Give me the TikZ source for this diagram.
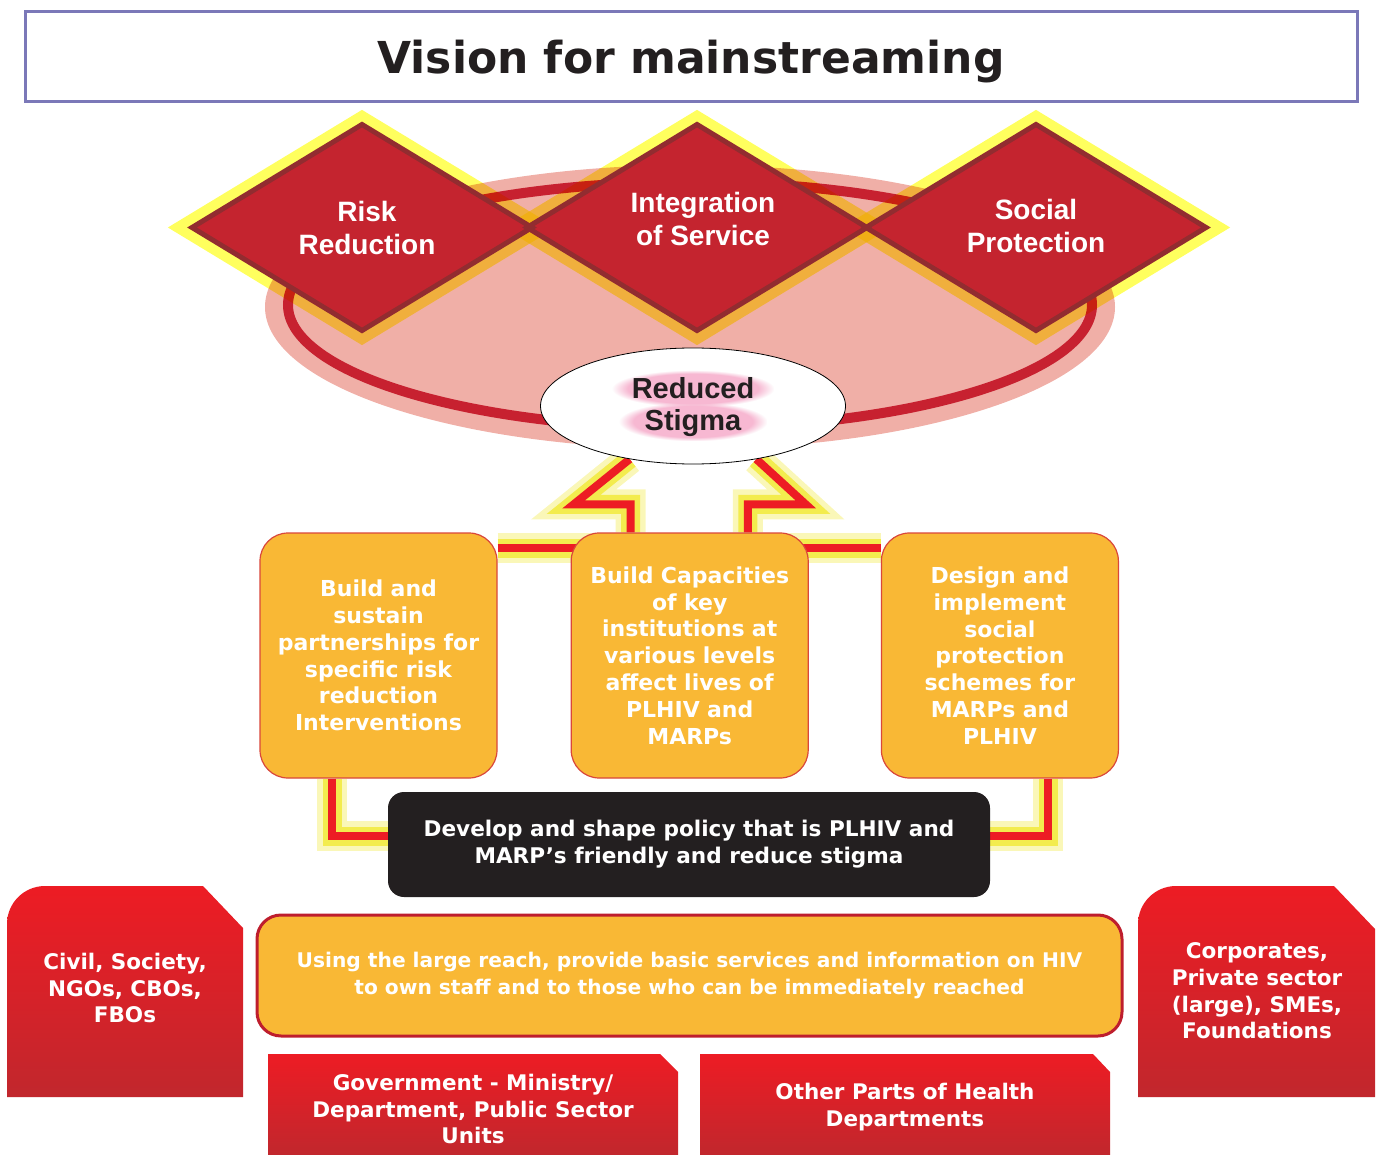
\documentclass[tikz,border=0pt]{standalone}
\usepackage{fontspec}
\setmainfont{DejaVu Sans}
\newfontfamily\arialf{Liberation Sans}
\usepackage{tikz}
\usetikzlibrary{positioning,calc,shapes.geometric,fadings}
\pgfdeclarelayer{bg}
\pgfsetlayers{bg,main}
\definecolor{titleline}{HTML}{7B78B8}
\definecolor{inktext}{HTML}{231F20}
\definecolor{pinkell}{HTML}{F0AFA7}
\definecolor{ringred}{HTML}{C72130}
\definecolor{diamfill}{HTML}{C4242F}
\definecolor{diamline}{HTML}{922C30}
\definecolor{glowyel}{HTML}{FFFF5E}
\definecolor{conred}{HTML}{ED1C24}
\definecolor{conglow}{HTML}{F3EC4E}
\definecolor{obfill}{HTML}{F9B835}
\definecolor{oborder}{HTML}{D9473B}
\definecolor{widered}{HTML}{BE1E2D}
\definecolor{redtop}{HTML}{ED1C24}
\definecolor{redbot}{HTML}{C1272D}
\definecolor{stigglow}{HTML}{F7B8D2}
\newcommand{\fs}[2]{\fontsize{#1}{#2}\selectfont}
\newcommand{\stigfont}{\arialf\bfseries\fs{29}{32}}
\newcommand{\diam}[2]{(#1-170,#2) -- (#1,#2-103) -- (#1+170,#2) -- (#1,#2+103) -- cycle}

\begin{document}
\begin{tikzpicture}[x=1pt,y=-1pt,
		obox/.style={rectangle, rounded corners=28pt, draw=oborder, line width=1.2pt, fill=obfill,
			text=white, minimum width=237pt, minimum height=245pt, text width=230pt, align=center,
			inner sep=0pt, font=\bfseries\fs{22}{26.8}},
		dtxt/.style={text=white, align=center, font=\arialf\bfseries\fs{28}{33}},
		redtxt/.style={text=white, align=center, font=\bfseries\fs{21.5}{26.7}},
		redbox/.style={top color=redtop, bottom color=redbot},
		halo/.style={fill=stigglow, path fading=circle with fuzzy edge 20 percent},
		glowing/.style={preaction={draw=conglow!40!white, line width=30pt},
			preaction={draw=conglow, line width=19pt}},
		redline/.style={draw=conred, line width=8pt, line join=miter, glowing},
	]
	\useasboundingbox (0,0) rectangle (1379,1155);

	% title
	\node[draw=titleline, line width=3pt, fill=white, minimum width=1332pt, minimum height=90pt,
		inner sep=0pt, text depth=0pt, text=inktext, font=\bfseries\fs{44}{50}] (title) at (691,57) {Vision for mainstreaming};

	% three pillars
	\node[dtxt] (risk) at (367,228) {Risk\\Reduction};
	\node[dtxt] (integ) at (703,219) {Integration\\of Service};
	\node[dtxt] (social) at (1036,226) {Social\\Protection};

	% reduced stigma, with a soft pink halo
	\node[ellipse, draw=black, line width=.8pt, fill=white, minimum width=305pt, minimum height=116pt,
		inner sep=0pt] (stigma) at (693,406) {};
	\path[halo] (612,370) rectangle (774,407);
	\path[halo] (619,402) rectangle (767,441);
	\node[text=inktext, align=center, font=\stigfont] (stigtext) at (693,407) {Reduced\\Stigma};

	% strategies
	\node[obox] (b1) at (378.5,655.5) {Build and\\sustain\\partnerships for\\specific risk\\reduction\\Interventions\\[16pt]};
	\node[obox, right=73pt of b1] (b2) {Build Capacities\\of key\\institutions at\\various levels\\affect lives of\\PLHIV and\\MARPs};
	\node[obox, right=72pt of b2] (b3) {Design and\\implement\\social\\protection\\schemes for\\MARPs and\\PLHIV};

	\node[rectangle, rounded corners=16pt, fill=inktext, minimum width=602pt, minimum height=105pt,
		text=white, align=center, font=\bfseries\fs{21.6}{27}] (policy) at (689,844.5)
		{Develop and shape policy that is PLHIV and\\MARP’s friendly and reduce stigma};

	\node[rectangle, rounded corners=24pt, draw=widered, line width=3pt, fill=obfill, minimum width=865pt,
		minimum height=121pt, text=white, align=center, font=\bfseries\fs{20.2}{27}] (reach) at (689.5,975.5)
		{Using the large reach, provide basic services and information on HIV\\to own staff and to those who can be immediately reached};

	% stakeholders
	\shade[redbox] (7,1097) -- (7,924) arc[start angle=180, end angle=270, radius=38] -- (203,886) -- (243,928) -- (243,1097) -- cycle;
	\shade[redbox] (1138,1097) -- (1138,924) arc[start angle=180, end angle=270, radius=38] -- (1334,886) -- (1375,929) -- (1375,1097) -- cycle;
	\shade[redbox] (268,1155) -- (268,1054) -- (660,1054) -- (678,1072) -- (678,1155) -- cycle;
	\shade[redbox] (700,1155) -- (700,1054) -- (1093,1054) -- (1110,1072) -- (1110,1155) -- cycle;
	\node[redtxt] (civil) at (125,988) {Civil, Society,\\NGOs, CBOs,\\FBOs};
	\node[redtxt] (corp) at (1257,991) {Corporates,\\Private sector\\(large), SMEs,\\Foundations};
	\node[redtxt] (govt) at (473,1109) {Government - Ministry/\\Department, Public Sector\\Units};
	\node[redtxt] (health) at (905,1107) {Other Parts of Health\\Departments};

	\begin{pgfonlayer}{bg}
		\fill[pinkell] (690,307) ellipse [x radius=425, y radius=142];
		\draw[ringred, line width=10pt] (690,305) ellipse [x radius=402, y radius=123];
		\foreach \cx in {362,697,1036}
			\draw[glowyel, line width=25pt, line join=miter, blend mode=multiply] \diam{\cx}{227.5};
		\foreach \cx in {362,697,1036}
			\fill[diamfill] \diam{\cx}{227.5};
		\foreach \cx in {362,697,1036}
			\draw[diamline, line width=5pt, line join=miter] \diam{\cx}{227.5};

		% arrow up to the stigma
		\path[redline] ([yshift=-16pt]b1.north east) -- ([yshift=-16pt]b3.north west);
		\path[redline] ([xshift=60pt]b2.north west) -- ++(0,-28) -- ++(-57,0) -- (stigma.220);
		\path[redline] ([xshift=-61pt]b2.north east) -- ++(0,-28) -- ++(58,0) -- (stigma.320);
		% policy links
		\path[redline] ([xshift=73pt]b1.south west) |- ([yshift=8.5pt]policy.west);
		\path[redline] ([xshift=-71pt]b3.south east) |- ([yshift=8.5pt]policy.east);
	\end{pgfonlayer}
\end{tikzpicture}
\end{document}
